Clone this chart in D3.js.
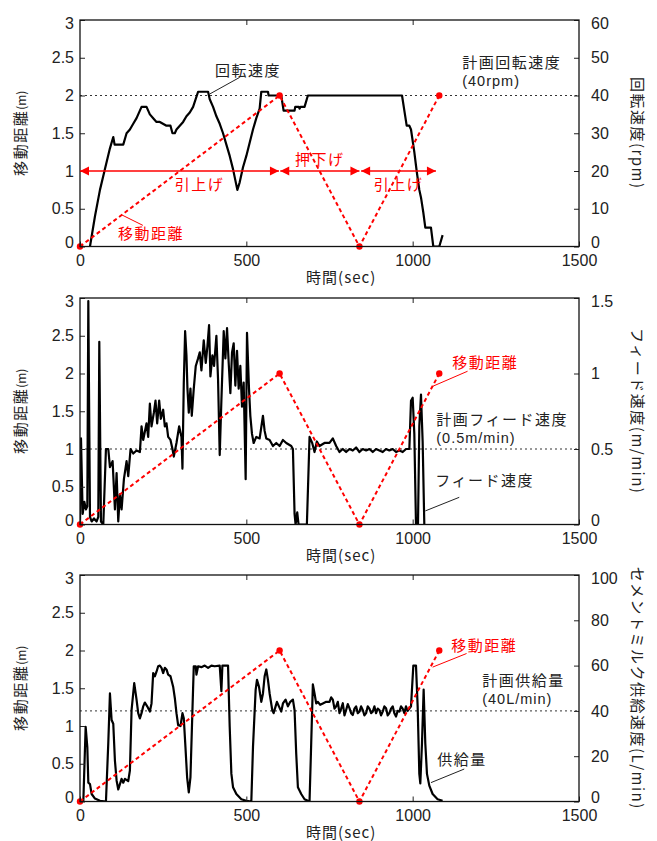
<!DOCTYPE html>
<html>
<head>
<meta charset="utf-8">
<script src="https://cdn.jsdelivr.net/npm/d3@7"></script>
<style>
  body { margin: 0; background: #fff; }
  text { font-family: "Noto Sans CJK JP", sans-serif; }
  .tick text { font-family: "Liberation Sans", Arial, sans-serif; font-size: 16px; fill: #222; }
  .tick line { stroke: #222; }
  .note { font-size: 15px; letter-spacing: 1.5px; }
  .note .sub { font-family: "Liberation Sans", Arial, sans-serif; font-size: 14.5px; letter-spacing: 1px; }
</style>
</head>
<body>
<svg id="chart" width="657" height="841"></svg>
<script>
// ------------------------------------------------------------
// Three stacked panels: movement distance (left axis, red dashed)
// plus rotation speed / feed speed / cement milk supply (right axis).
// ------------------------------------------------------------

// Shared axis values
const timeTicks = [0, 500, 1000, 1500];
const distTicks = [0, 0.5, 1, 1.5, 2, 2.5, 3];
const rpmTicks = [0, 10, 20, 30, 40, 50, 60];
const feedTicks = [0, 0.5, 1, 1.5];
const supplyTicks = [0, 20, 40, 60, 80, 100];

// Planned movement distance (sec, m)
const planDistance = [[0, 0], [600, 2], [840, 0], [1080, 2]];

// Arrows along 1 m in the top panel (sec)
const arrowFrom = [0, 602, 845];
const arrowTo = [598, 840, 1070];
const arrowText = ["引上げ", "押下げ", "引上げ"];

// Rotation speed (sec, rpm)
const rotation = [
  [30, 0], [45, 8], [60, 15], [75, 20.5], [90, 26], [100, 29], [104, 27], [130, 27],
  [140, 30], [150, 31], [160, 32.5], [170, 34], [180, 36], [185, 37], [200, 37],
  [210, 35], [220, 34], [230, 33], [240, 33], [260, 32], [272, 32], [278, 30], [285, 30],
  [290, 31], [300, 32], [310, 33], [320, 34.5], [330, 35.5], [340, 37], [355, 41],
  [385, 41], [390, 39], [400, 37], [410, 34.5], [420, 32.5], [430, 30], [440, 27],
  [450, 24], [460, 20.5], [473, 15], [480, 17], [490, 21], [500, 24], [510, 27.5],
  [520, 31], [530, 34], [540, 36.5], [545, 41], [565, 41], [567, 40], [605, 40],
  [612, 36], [645, 36], [647, 37], [658, 37], [660, 36.5], [663, 37], [675, 37],
  [685, 40], [968, 40], [975, 36], [982, 32], [990, 32], [995, 31], [1005, 25],
  [1012, 20], [1020, 15], [1025, 13], [1032, 9], [1038, 5], [1055, 5], [1062, 0],
  [1080, 0], [1090, 3]
];

// Feed speed (sec, m/min)
const feed = [
  [0, 0], [3, 0.57], [8, 0.07], [13, 0.15], [18, 0.10], [22, 0.12], [25, 1.48], [30, 0.05],
  [35, 0.02], [42, 0.04], [50, 0.02], [55, 0.05], [58, 1.21], [63, 0.02], [70, 0], [78, 0.50],
  [85, 0.50], [90, 0.38], [98, 0.42], [105, 0.10], [110, 0.34], [115, 0.02], [120, 0.20],
  [125, 0.10], [132, 0.30], [140, 0.42], [145, 0.32], [152, 0.50], [160, 0.47], [170, 0.49],
  [180, 0.48], [185, 0.65], [190, 0.56], [200, 0.67], [205, 0.58], [210, 0.80], [215, 0.65],
  [222, 0.74], [227, 0.82], [232, 0.67], [238, 0.82], [243, 0.70], [250, 0.76], [255, 0.65],
  [260, 0.67], [265, 0.58], [272, 0.56], [278, 0.50], [282, 0.45], [290, 0.54], [298, 0.65],
  [305, 0.58], [308, 0.37], [312, 0.94], [316, 1.28], [320, 1.12], [323, 0.90], [327, 0.74],
  [332, 0.90], [336, 0.72], [342, 0.90], [348, 1.05], [355, 1.10], [360, 1.14], [365, 1.02],
  [372, 1.22], [378, 1.07], [383, 1.18], [388, 1.32], [392, 0.98], [398, 1.12], [403, 1.05],
  [410, 1.25], [415, 0.96], [420, 0.46], [425, 0.82], [432, 1.28], [437, 1.10], [442, 1.30],
  [447, 1.07], [452, 0.87], [457, 1.14], [462, 1.20], [467, 0.92], [472, 1.15], [477, 0.90],
  [482, 1.05], [487, 0.78], [492, 0.94], [498, 0.30], [502, 1.27], [508, 0.90], [512, 0.72],
  [517, 0.60], [522, 0.54], [530, 0.58], [540, 0.57], [550, 0.72], [555, 0.62], [560, 0.57],
  [570, 0.56], [580, 0.52], [590, 0.54], [600, 0.52], [610, 0.56], [620, 0.54], [635, 0.52],
  [640, 0.50], [645, 0.07], [648, 0], [653, 0.08], [657, 0], [682, 0], [690, 0.58], [698, 0.54],
  [705, 0.48], [712, 0.55], [720, 0.52], [735, 0.54], [750, 0.54], [760, 0.57], [770, 0.52],
  [780, 0.48], [790, 0.50], [800, 0.48], [810, 0.50], [820, 0.49], [830, 0.51], [840, 0.48],
  [850, 0.50], [860, 0.49], [870, 0.50], [880, 0.48], [890, 0.50], [900, 0.49], [910, 0.48],
  [920, 0.50], [930, 0.49], [940, 0.50], [950, 0.48], [960, 0.49], [970, 0.48], [980, 0.50],
  [990, 0.50], [995, 0.82], [1000, 0.84], [1005, 0.60], [1010, 0], [1016, 0], [1020, 0.65],
  [1025, 0.86], [1030, 0.55], [1035, 0]
];

// Cement milk supply (sec, L/min)
const supply = [
  [2, 0], [10, 0], [17, 33], [22, 24], [25, 8.3], [30, 7.7], [35, 3.3], [45, 1.3], [60, 0.3],
  [78, 0], [85, 25.7], [90, 47.7], [95, 36], [100, 34.3], [105, 18], [110, 9.3], [115, 5.3],
  [120, 7.7], [125, 10], [130, 8.3], [135, 10], [145, 9], [150, 13.7], [155, 40.3], [163, 52.3],
  [170, 45], [175, 39], [180, 36.7], [185, 39], [190, 42], [195, 43.7], [202, 42], [210, 39.7],
  [215, 43.3], [220, 56.7], [225, 55.3], [230, 57.3], [235, 59.7], [240, 60], [245, 59],
  [250, 56.7], [255, 59], [260, 58.3], [265, 56], [272, 55.3], [280, 50.7], [285, 45.7],
  [290, 39], [295, 33.7], [302, 33.3], [308, 39], [312, 36.7], [317, 24], [322, 10.7], [327, 4],
  [332, 10.7], [338, 40.3], [342, 59.7], [348, 59.7], [350, 56], [355, 59.7], [365, 59.3],
  [375, 60], [385, 59], [395, 60], [405, 59.7], [420, 60], [425, 48.7], [428, 60], [445, 60],
  [450, 33], [455, 12.3], [460, 6.3], [470, 3.3], [485, 1], [500, 0.3], [515, 0], [520, 24],
  [528, 49.3], [532, 53.7], [538, 50.7], [545, 44], [550, 47.7], [555, 55.3], [560, 58.3],
  [565, 53.7], [570, 47.7], [578, 40.3], [582, 39], [588, 42], [592, 44], [598, 42], [605, 39.7],
  [610, 43.3], [618, 45], [625, 42], [632, 44], [640, 45], [645, 40.3], [650, 21], [655, 6.3],
  [665, 3.3], [675, 1], [685, 0.3], [690, 0], [695, 25.7], [700, 51.7], [705, 47.7], [710, 43.3],
  [715, 44], [722, 42.7], [730, 43.3], [740, 44], [750, 44], [755, 46], [760, 45], [765, 41],
  [770, 42], [775, 44], [780, 39], [785, 41], [790, 43.4], [795, 38], [800, 40.4], [805, 43],
  [810, 41.2], [815, 39], [820, 38.2], [825, 41], [830, 42], [835, 39], [840, 39.7], [845, 42],
  [850, 40.4], [855, 38], [860, 39], [865, 42], [870, 41], [875, 39], [880, 39.7], [885, 42],
  [890, 39], [895, 41], [900, 40.4], [905, 38], [910, 39.7], [915, 42], [920, 41.2], [925, 38],
  [930, 39], [935, 41], [940, 42], [945, 39], [950, 37.5], [955, 40], [960, 39.7], [965, 42],
  [970, 41], [975, 39], [980, 42], [985, 40], [990, 41], [995, 42], [1002, 60], [1010, 60],
  [1015, 42], [1020, 12.2], [1023, 8], [1028, 25.6], [1033, 49.4], [1038, 25.6], [1043, 12.2],
  [1050, 7], [1060, 3.3], [1075, 1], [1090, 0.3]
];

// Layout
const plotLeft = 80;
const plotRight = 579;
const panelTop = [20, 298, 575];
const panelH = 226.5;
const red = "#f00";

const svg = d3.select("#chart");
const x = d3.scaleLinear().domain([0, 1500]).range([plotLeft, plotRight]);

svg.append("defs").append("clipPath").attr("id", "plotClip")
  .append("rect").attr("x", plotLeft).attr("y", 0)
  .attr("width", plotRight - plotLeft).attr("height", panelH);

// Side tick labels at the two ends are nudged inward, as in the original figure.
function nudgeEnds(a, max) {
  a.selectAll(".tick text").attr("y", d => d === 0 ? -4 : d === max ? 3 : 0);
}

// Draw one panel. Annotation positions are given in data units.
function drawPanel(i, cfg) {
  const g = svg.append("g").attr("transform", `translate(0,${panelTop[i]})`);
  const yL = d3.scaleLinear().domain([0, 3]).range([panelH, 0]);
  const yR = d3.scaleLinear().domain([0, cfg.rightMax]).range([panelH, 0]);

  // reference (planned) value line
  g.append("line")
    .attr("x1", plotLeft).attr("x2", plotRight)
    .attr("y1", yR(cfg.plan)).attr("y2", yR(cfg.plan))
    .attr("stroke", "#333").attr("stroke-width", 1).attr("stroke-dasharray", "2,3");

  // measured series
  g.append("path")
    .datum(cfg.series)
    .attr("clip-path", "url(#plotClip)")
    .attr("fill", "none").attr("stroke", "#000").attr("stroke-width", 2.2)
    .attr("stroke-linejoin", "round")
    .attr("d", d3.line().x(d => x(d[0])).y(d => yR(d[1])));

  // planned movement distance
  g.append("path")
    .datum(planDistance)
    .attr("fill", "none").attr("stroke", red).attr("stroke-width", 2)
    .attr("stroke-dasharray", "4,3")
    .attr("d", d3.line().x(d => x(d[0])).y(d => yL(d[1])));
  g.selectAll(".pdot").data(planDistance).enter().append("circle")
    .attr("cx", d => x(d[0])).attr("cy", d => yL(d[1])).attr("r", 3.2).attr("fill", red);

  // axes (ticks point inward)
  g.append("g").attr("transform", `translate(${plotLeft},0)`)
    .call(d3.axisLeft(yL).tickValues(distTicks).tickFormat(d3.format("")).tickSize(-5).tickPadding(6))
    .call(a => a.select(".domain").remove())
    .call(a => nudgeEnds(a, 3));
  g.append("g").attr("transform", `translate(${plotRight},0)`)
    .call(d3.axisRight(yR).tickValues(cfg.rightTicks).tickFormat(d3.format("")).tickSize(-5).tickPadding(12))
    .call(a => a.select(".domain").remove())
    .call(a => nudgeEnds(a, cfg.rightMax));
  g.append("g").attr("transform", `translate(0,${panelH})`)
    .call(d3.axisBottom(x).tickValues(timeTicks).tickFormat(d3.format("d")).tickSize(-5).tickPadding(8))
    .call(a => a.select(".domain").remove());
  g.append("g")
    .call(d3.axisTop(x).tickValues([500, 1000]).tickSize(-5).tickFormat(""))
    .call(a => a.select(".domain").remove());

  g.append("rect")
    .attr("x", plotLeft).attr("y", 0)
    .attr("width", plotRight - plotLeft).attr("height", panelH)
    .attr("fill", "none").attr("stroke", "#111").attr("stroke-width", 1.3);

  // axis titles
  const lt = g.append("text")
    .attr("transform", `translate(21,${panelH / 2}) rotate(-90)`)
    .attr("text-anchor", "middle").attr("dy", "0.35em")
    .attr("font-size", 15).attr("letter-spacing", 1.5).attr("fill", "#222");
  lt.append("tspan").text("移動距離");
  lt.append("tspan").attr("font-size", 12).attr("letter-spacing", 0).text("(m)");

  g.append("text")
    .attr("transform", `translate(637,${panelH / 2}) rotate(90)`)
    .attr("text-anchor", "middle").attr("dy", "0.35em")
    .attr("font-size", 15).attr("letter-spacing", 1.5).attr("fill", "#222")
    .text(cfg.rightLabel);

  g.append("text")
    .attr("x", x(785)).attr("y", panelH + 36)
    .attr("text-anchor", "middle")
    .attr("font-size", 15).attr("letter-spacing", 1).attr("fill", "#222")
    .text("時間(sec)");

  // callouts: first line in Japanese, an optional second "(value)" line under it,
  // optional leader between two [sec, m] points
  cfg.notes.forEach(n => {
    const t = g.append("text").attr("class", "note")
      .attr("x", x(n.t)).attr("y", n.y).attr("fill", n.color);
    t.append("tspan").text(n.lines[0]);
    if (n.lines[1]) {
      t.append("tspan").attr("class", "sub").attr("x", x(n.t)).attr("dy", 18).text(n.lines[1]);
    }
    if (n.lead) {
      g.append("line")
        .attr("x1", x(n.lead[0][0])).attr("y1", yL(n.lead[0][1]))
        .attr("x2", x(n.lead[1][0])).attr("y2", yL(n.lead[1][1]))
        .attr("stroke", n.color).attr("stroke-width", 1);
    }
  });

  return {g, yL, yR};
}

// ---- top panel: rotation speed ----
const topPanel = drawPanel(0, {
  rightMax: 60, rightTicks: rpmTicks, plan: 40, series: rotation,
  rightLabel: "回転速度(rpm)",
  notes: [
    {lines: ["回転速度"], color: "#222", t: 406, y: 56, lead: [[390, 2.02], [480, 2.24]]},
    {lines: ["計画回転速度", "(40rpm)"], color: "#222", t: 1149, y: 48},
    {lines: ["移動距離"], color: red, t: 114, y: 219, lead: [[125, 0.42], [189, 0.28]]}
  ]
});

// red arrows with filled heads along 1 m
arrowFrom.forEach((a, k) => {
  const yv = topPanel.yL(1);
  const x1 = x(a), x2 = x(arrowTo[k]);
  topPanel.g.append("line").attr("x1", x1).attr("x2", x2).attr("y1", yv).attr("y2", yv)
    .attr("stroke", red).attr("stroke-width", 1.5);
  topPanel.g.append("path").attr("fill", red)
    .attr("d", `M${x1},${yv}L${x1 + 9},${yv - 4.5}L${x1 + 9},${yv + 4.5}Z`);
  topPanel.g.append("path").attr("fill", red)
    .attr("d", `M${x2},${yv}L${x2 - 9},${yv - 4.5}L${x2 - 9},${yv + 4.5}Z`);
  topPanel.g.append("text").attr("class", "note")
    .attr("x", x((a + arrowTo[k]) / 2) + (k === 0 ? 20 : 0))
    .attr("y", k === 1 ? yv - 6 : yv + 19)
    .attr("text-anchor", "middle").attr("fill", red)
    .text(arrowText[k]);
});

// ---- middle panel: feed speed ----
drawPanel(1, {
  rightMax: 1.5, rightTicks: feedTicks, plan: 0.5, series: feed,
  rightLabel: "フィード速度(m/min)",
  notes: [
    {lines: ["移動距離"], color: red, t: 1119, y: 70, lead: [[1060, 1.83], [1165, 2.03]]},
    {lines: ["計画フィード速度", "(0.5m/min)"], color: "#222", t: 1071, y: 127},
    {lines: ["フィード速度"], color: "#222", t: 1068, y: 188, lead: [[1038, 0.18], [1140, 0.36]]}
  ]
});

// ---- bottom panel: cement milk supply ----
drawPanel(2, {
  rightMax: 100, rightTicks: supplyTicks, plan: 40, series: supply,
  rightLabel: "セメントミルク供給速度(L/min)",
  notes: [
    {lines: ["移動距離"], color: red, t: 1116, y: 76, lead: [[1060, 1.78], [1162, 1.96]]},
    {lines: ["計画供給量", "(40L/min)"], color: "#222", t: 1209, y: 111},
    {lines: ["供給量"], color: "#222", t: 1074, y: 190, lead: [[1055, 0.25], [1155, 0.43]]}
  ]
});
</script>
</body>
</html>
